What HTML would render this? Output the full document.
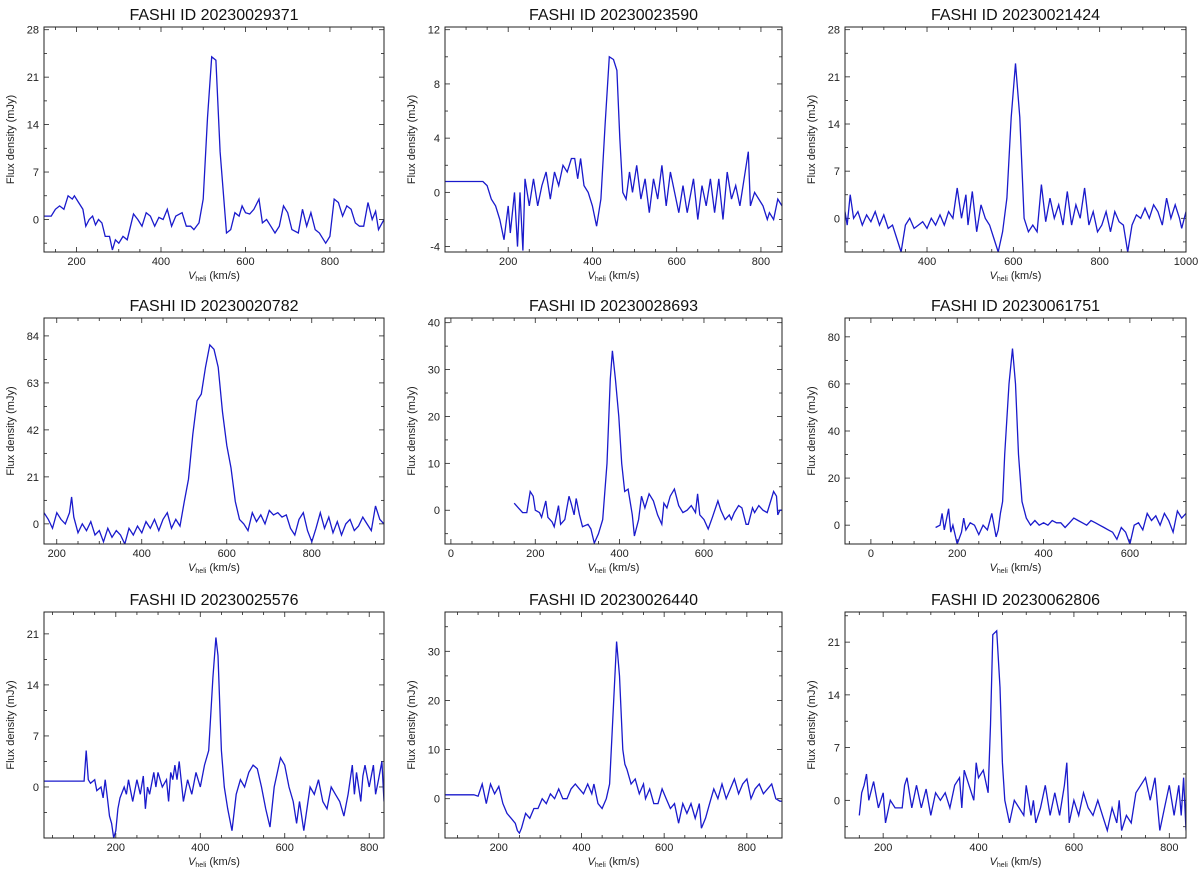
<!DOCTYPE html>
<html><head><meta charset="utf-8">
<style>
html,body{margin:0;padding:0;background:#fff;}
svg{display:block;font-family:"Liberation Sans",sans-serif;}
</style></head>
<body>
<svg id="fig" width="1200" height="869" viewBox="0 0 1200 869" xmlns="http://www.w3.org/2000/svg"></svg>
<script>
const titles = ["FASHI ID 20230029371","FASHI ID 20230023590","FASHI ID 20230021424","FASHI ID 20230020782","FASHI ID 20230028693","FASHI ID 20230061751","FASHI ID 20230025576","FASHI ID 20230026440","FASHI ID 20230062806"];
const xRanges = [[123,928],[50,850],[210,1000],[170,970],[-14,785],[-60,730],[30,835],[70,885],[120,835]];
const yRanges = [[-4.8,28.4],[-4.4,12.2],[-5,28.4],[-9,92],[-7.2,41],[-8,88],[-7,24],[-8,38],[-5,25]];
const xTicks = [[200,400,600,800],[200,400,600,800],[400,600,800,1000],[200,400,600,800],[0,200,400,600],[0,200,400,600],[200,400,600,800],[200,400,600,800],[200,400,600,800]];
const yTicks = [[0,7,14,21,28],[-4,0,4,8,12],[0,7,14,21,28],[0,21,42,63,84],[0,10,20,30,40],[0,20,40,60,80],[0,7,14,21],[0,10,20,30],[0,7,14,21]];
const vel0 = [123,140,150,160,170,180,190,195,205,215,222,230,238,245,252,260,268,278,285,292,300,310,320,335,345,355,365,375,385,395,405,415,425,435,450,460,470,478,490,500,510,520,530,540,555,565,575,585,592,600,610,620,632,640,650,660,670,680,690,700,710,725,735,745,755,765,775,790,800,810,820,830,840,850,860,870,880,890,900,908,915,928];
const flux0 = [0.5,0.5,1.5,2,1.5,3.5,3,3.5,2.5,1.5,-1,0,0.5,-0.8,0,-0.5,-2.5,-2.5,-4.5,-3,-3.5,-2.5,-3,0.8,0,-1,1,0.5,-1,0.3,0,1.5,-1,0.5,1,-1,-1,-1.5,-0.5,3,15,24,23.5,10,-2,-1.5,1,0.5,2,1,0.8,1.5,3,-0.5,0,-1,-2,-1,2,1,-1.5,-2,1.5,-1,1,-1.5,-2,-3.5,-2.5,3,2.5,0.5,2,1.5,-0.5,-1,-1,2.5,0,1.2,-1.5,0];
const vel1 = [50,140,150,160,170,180,190,200,205,215,222,228,235,240,250,260,270,280,290,300,310,320,330,340,350,358,365,372,380,390,400,410,420,430,440,450,458,465,472,480,488,495,505,515,525,535,545,555,565,575,585,595,605,615,625,640,650,660,670,680,690,700,710,720,730,740,750,760,770,775,785,795,805,815,820,830,840,850];
const flux1 = [0.8,0.8,0.5,-0.5,-1,-2,-3.5,-1,-3,0,-4,0,-4.3,1,-1,1,-1,0.5,1.5,-0.5,1.5,0.5,2,1.5,2.5,2.5,1,2.5,0.5,0,-1,-2.5,-0.5,5,10,9.8,9,4,0,-0.5,1.5,0,2,-0.5,1,-1.5,1,-0.5,2,-1,1.5,0,-1.5,0.5,-1.5,1,-2,0.5,-1,1,-1.5,1,-2,1.5,-0.5,0.5,-1,1,3,-1,0,-0.5,-1,-2,-1.5,-2,-0.5,-1];
const vel2 = [210,215,222,230,240,250,260,270,280,290,300,310,320,330,340,350,360,370,380,390,400,410,420,430,440,450,460,470,480,490,495,505,515,525,535,545,555,565,575,585,595,605,615,625,635,645,655,665,675,685,695,705,715,725,735,745,755,765,775,785,795,805,815,825,835,845,855,865,875,885,895,905,915,925,935,945,955,965,975,985,990,1000];
const flux2 = [1,-1,3.5,0,1,-1,0.5,-0.5,1,-1,0.5,-1.5,-1,-3,-5,-1,0,-1.5,-1,-0.5,-1.5,0,-1,0.5,-1,1,0,4.5,0,3.5,-1,4,-2,2,0,-1,-3,-5,-2,3,15,23,15,0,-2,-1,-2,5,-0.5,3,0,2,-1,4,-1,2,0,4.5,-1,1,-2,-1,1,-2,1,-0.5,-1,-5,-1,0.5,0,1.5,0,2,1,-1,3,0,2,0,-1.5,1];
const vel3 = [170,180,190,200,210,220,230,235,240,250,260,270,280,290,300,310,320,330,340,350,360,370,380,390,400,410,420,430,440,450,460,470,480,490,500,510,520,530,540,550,560,570,580,590,600,610,620,630,640,650,660,670,680,690,700,710,720,730,740,750,760,770,780,790,800,810,820,830,840,850,860,870,880,890,900,910,920,930,940,950,960,970];
const flux3 = [5,2,-2,5,2,0,5,12,3,-4,0,-3,1,-5,-3,-8,-2,-6,-3,-5,-9,-2,-5,-1,-4,1,-2,2,-3,2,5,-2,2,-1,10,20,40,55,58,70,80,78,70,50,35,25,10,2,0,-3,5,1,4,0,6,4,5,3,4,-2,-5,2,5,-3,-8,-2,5,-2,3,-4,1,-5,0,2,-3,-1,3,0,-3,8,2,0];
const vel4 = [150,160,170,180,188,195,200,210,215,225,230,240,245,255,260,270,280,285,292,297,305,312,325,332,340,350,360,370,378,383,390,398,405,412,420,430,435,445,452,460,470,480,490,500,505,512,520,530,540,550,560,570,580,585,590,600,610,620,633,640,650,660,665,672,682,690,700,705,715,720,730,740,750,765,772,775,780,785];
const flux4 = [1.5,0.5,-0.5,-0.5,4,3,0,-0.5,-1.5,2,-1.5,-2.5,-3.5,1,-3,-2,3,1.5,-1,2.5,-1,-3.5,-3,-4,-7,-5,-2,10,28,34,28,20,10,4,4.5,-1,-5.5,-2,3,0.5,3.5,2,-1,-3,1.5,0.5,3,4.5,1,-0.5,0,1,-0.5,3.5,-1,-2,-4,-1.5,2,0,-2,-1,-2,-0.5,1,0.5,-3,-3,0.5,-0.5,1,0,-0.5,4,3,-1,0,0];
const vel5 = [150,160,165,170,180,185,190,200,210,215,220,230,240,250,260,270,280,290,295,300,305,310,320,328,335,342,350,360,370,380,390,400,410,420,430,440,450,460,470,480,490,500,510,520,530,540,550,560,570,580,590,600,610,620,630,640,650,660,670,680,690,700,710,720,730];
const flux5 = [-1,0,5,-2,7,-3,0,-8,-3,3,-2,1,0,-4,0,-2,5,-5,-2,5,10,30,60,75,60,30,10,3,0,2,0,1,0,2,1,1,-1,1,3,2,1,0,2,1,0,-1,-2,-3,-6,-1,-3,-8,0,1,-2,5,2,4,0,5,2,-3,6,3,5];
const vel6 = [30,125,130,135,140,150,155,165,170,175,180,185,190,195,200,205,210,220,225,230,240,250,258,265,270,275,280,290,295,300,310,320,325,330,335,340,345,350,360,370,380,390,400,410,420,430,437,442,450,457,465,475,485,495,505,515,525,535,545,555,565,575,590,600,610,620,628,635,645,650,660,670,680,690,700,710,720,730,740,750,760,765,770,780,785,790,800,810,815,822,830,835];
const flux6 = [0.8,0.8,5,1,0.5,1,-0.5,0,-1.5,1,-1.5,-4,-5,-7,-6,-3,-1.5,0,-1,1,-2,1,-1,1.5,-3,0,-1,2,0,2,0,1,-2,2,1,3,1,3.5,-2,1,-1,2,0,3,5,15,20.5,18,5,0,-3,-6,-1,1,0,2,3,2.5,0,-3,-5.5,0,4,3,0,-2,-5,-2,-6,-4,0,-1,1,-2,-3,0,-1,-2,-4,-1,3,-1,2,-2,1.5,3,0,3,-1,1,3.5,-2];
const vel7 = [70,140,150,160,170,180,190,200,210,220,230,240,245,250,255,265,275,285,295,305,315,325,335,345,355,365,375,385,395,405,415,425,430,440,450,460,468,475,485,492,500,505,510,520,530,540,550,555,565,575,585,595,605,615,625,635,645,655,665,675,685,690,700,710,720,730,740,750,760,770,780,790,800,810,820,830,840,850,860,870,880,885];
const flux7 = [0.8,0.8,0.5,3,-1,3,1,2.5,-1,-3,-4,-5,-6.5,-7,-6,-3,-4,-2,-2,0,-1,1,0,2,0,0,2,3,2,1,3,1,3,-1,-2,0,3,15,32,25,10,7,6,3,4,1,3,0,2,-1,-1,2,0,-2,-1,-5,-1,-3,-1,-4,-1,-6,-4,-1,2,0,3,0,2,4,1,3,4,0,2,3,1,2,3,0,-0.5,-0.5];
const vel8 = [150,155,160,165,170,180,190,200,205,215,225,240,245,250,260,270,280,290,300,310,320,330,340,350,360,365,370,380,390,395,400,410,420,425,430,438,445,450,455,465,475,485,495,500,510,515,520,530,540,550,560,570,580,585,590,600,610,620,630,640,650,660,670,680,690,695,700,710,720,730,740,750,760,770,780,790,800,810,820,825,830,835];
const flux8 = [-2,1,2,3.5,0,2.5,-1,1,-3,0,-1,-1,2,3,-1,2,-1,1.5,-2,1,0,1,-1,2,3,-1,4,2,0,5,3,4,1,10,22,22.5,15,5,0,-3,0,-1,-2,2,-2,0,-3,-1,2,-2,1,-2,2,5,-3,0,-2,1,-1,-2,0,-2,-4,-1,-3,0,-4,-2,-3,1,2,3,0,3,-4,-1,2,-2,2,-2,3,-4];
const velSets = [vel0,vel1,vel2,vel3,vel4,vel5,vel6,vel7,vel8];
const fluxSets = [flux0,flux1,flux2,flux3,flux4,flux5,flux6,flux7,flux8];

const NS = "http://www.w3.org/2000/svg";
const svg = document.getElementById("fig");
const colL = [44,445,845], colR = [384,782,1186];
const rowT = [27,318,612], rowB = [252,544,838];
function mk(tag, attrs, parent){const e=document.createElementNS(NS,tag);for(const k in attrs)e.setAttribute(k,attrs[k]);parent.appendChild(e);return e;}

for(let p=0;p<9;p++){
  const c=p%3, r=Math.floor(p/3);
  const L=colL[c], R=colR[c], T=rowT[r], B=rowB[r];
  const [x0,x1]=xRanges[p], [y0,y1]=yRanges[p];
  const sx=v=>L+(v-x0)/(x1-x0)*(R-L);
  const sy=v=>B-(v-y0)/(y1-y0)*(B-T);
  const g=mk("g",{},svg);
  
  
  const t=mk("text",{x:(L+R)/2,y:T-7,"text-anchor":"middle","font-size":"16",fill:"#111"},g);
  t.textContent=titles[p];
  
  
  const clip=mk("clipPath",{id:"cp"+p},g);
  mk("rect",{x:L,y:T,width:R-L,height:B-T},clip);
  // ticks
  const xs=xTicks[p], step=xs[1]-xs[0];
  for(let v=xs[0]-step;v<=x1;v+=step/4){
    if(v<x0||v>x1)continue;
    const major=xs.includes(v), len=major?5:3, X=sx(v);
    mk("line",{x1:X,y1:B,x2:X,y2:B-len,stroke:"#222","stroke-width":0.8},g);
    mk("line",{x1:X,y1:T,x2:X,y2:T+len,stroke:"#222","stroke-width":0.8},g);
  }
  xs.forEach(v=>{const tl=mk("text",{x:sx(v),y:B+13,"text-anchor":"middle","font-size":"11",fill:"#222"},g);tl.textContent=v;
    
    });
  const ys=yTicks[p], ystep=ys[1]-ys[0];
  for(let v=ys[0]-ystep;v<=y1+0.01;v+=ystep/2){
    if(v<y0||v>y1)continue;
    const major=ys.some(q=>Math.abs(q-v)<1e-6), len=major?5:3, Y=sy(v);
    mk("line",{x1:L,y1:Y,x2:L+len,y2:Y,stroke:"#222","stroke-width":0.8},g);
    mk("line",{x1:R,y1:Y,x2:R-len,y2:Y,stroke:"#222","stroke-width":0.8},g);
  }
  ys.forEach(v=>{const tl=mk("text",{x:L-5,y:sy(v)+4,"text-anchor":"end","font-size":"11",fill:"#222"},g);tl.textContent=v;
    
    });
  const yl=mk("text",{x:0,y:0,transform:`translate(${L-30},${(T+B)/2}) rotate(-90)`,"text-anchor":"middle","font-size":"11",fill:"#222"},g);
  yl.textContent="Flux density (mJy)";
  
  
  const xl=mk("text",{x:(L+R)/2,y:B+27,"text-anchor":"middle","font-size":"11",fill:"#222"},g);
  xl.innerHTML='<tspan font-style="italic">V</tspan><tspan font-size="7" dy="2">heli</tspan><tspan dy="-2"> (km/s)</tspan>';
  
  
  const vel=velSets[p], fl=fluxSets[p];
  const d=vel.map((v,i)=>(i?"L":"M")+sx(v).toFixed(1)+","+sy(fl[i]).toFixed(1)).join(" ");
  const path=mk("path",{d:d,fill:"none",stroke:"#1a1acc","stroke-width":1.3,"clip-path":`url(#cp${p})`},g);
  
  
  const fr=mk("rect",{x:L,y:T,width:R-L,height:B-T,fill:"none",stroke:"#222","stroke-width":1},g);
  
  
}
</script>
</body></html>
